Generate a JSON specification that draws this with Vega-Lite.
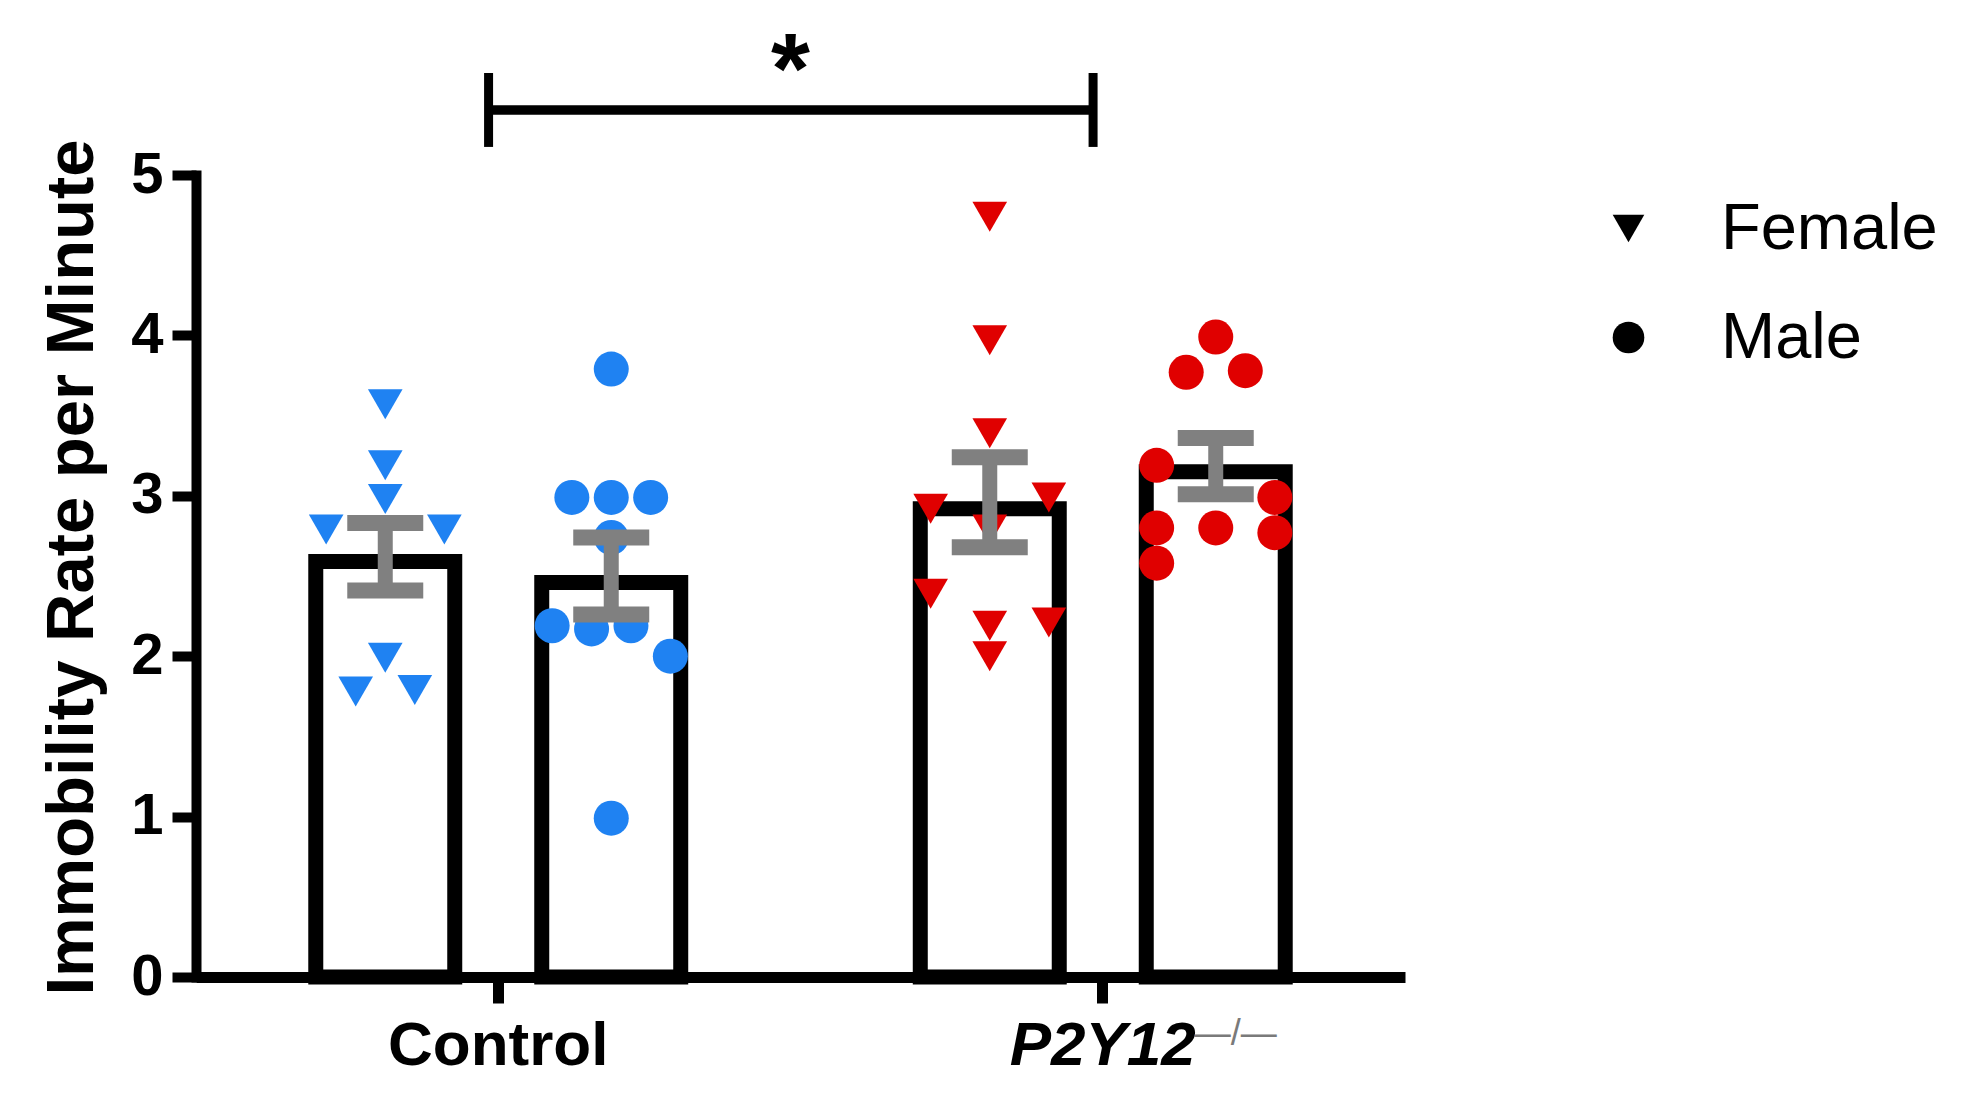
{
  "$schema": "https://vega.github.io/schema/vega-lite/v6.json",
  "width": 1209,
  "height": 802,
  "autosize": {"type": "none"},
  "padding": {"left": 196, "top": 175, "right": 571, "bottom": 127},
  "background": "white",
  "config": {
    "view": {"stroke": null},
    "font": "Liberation Sans",
    "axisX": {"domainCap": "butt"},
    "axisY": {"domainCap": "square"}
  },
  "datasets": {
    "bars": [
      {"group": "Control", "sex": "Female", "mean": 2.59, "lower": 2.41, "upper": 2.83},
      {"group": "Control", "sex": "Male", "mean": 2.46, "lower": 2.26, "upper": 2.74},
      {"group": "P2Y12", "sex": "Female", "mean": 2.92, "lower": 2.68, "upper": 3.24},
      {"group": "P2Y12", "sex": "Male", "mean": 3.15, "lower": 3.01, "upper": 3.36}
    ],
    "points": [
      {"group": "Control", "sex": "Female", "col": 0, "rate": 3.57},
      {"group": "Control", "sex": "Female", "col": 0, "rate": 3.19},
      {"group": "Control", "sex": "Female", "col": 0, "rate": 2.98},
      {"group": "Control", "sex": "Female", "col": -6, "rate": 2.79},
      {"group": "Control", "sex": "Female", "col": 6, "rate": 2.79},
      {"group": "Control", "sex": "Female", "col": 0, "rate": 1.99},
      {"group": "Control", "sex": "Female", "col": -3, "rate": 1.78},
      {"group": "Control", "sex": "Female", "col": 3, "rate": 1.79},
      {"group": "Control", "sex": "Male", "col": 0, "rate": 3.79},
      {"group": "Control", "sex": "Male", "col": -4, "rate": 2.99},
      {"group": "Control", "sex": "Male", "col": 0, "rate": 2.99},
      {"group": "Control", "sex": "Male", "col": 4, "rate": 2.99},
      {"group": "Control", "sex": "Male", "col": 0, "rate": 2.74},
      {"group": "Control", "sex": "Male", "col": -6, "rate": 2.19},
      {"group": "Control", "sex": "Male", "col": -2, "rate": 2.17},
      {"group": "Control", "sex": "Male", "col": 2, "rate": 2.19},
      {"group": "Control", "sex": "Male", "col": 6, "rate": 2.0},
      {"group": "Control", "sex": "Male", "col": 0, "rate": 0.99},
      {"group": "P2Y12", "sex": "Female", "col": 0, "rate": 4.74},
      {"group": "P2Y12", "sex": "Female", "col": 0, "rate": 3.97},
      {"group": "P2Y12", "sex": "Female", "col": 0, "rate": 3.39},
      {"group": "P2Y12", "sex": "Female", "col": -6, "rate": 2.92},
      {"group": "P2Y12", "sex": "Female", "col": 6, "rate": 2.99},
      {"group": "P2Y12", "sex": "Female", "col": 0, "rate": 2.79},
      {"group": "P2Y12", "sex": "Female", "col": -6, "rate": 2.39},
      {"group": "P2Y12", "sex": "Female", "col": 0, "rate": 2.19},
      {"group": "P2Y12", "sex": "Female", "col": 6, "rate": 2.21},
      {"group": "P2Y12", "sex": "Female", "col": 0, "rate": 2.0},
      {"group": "P2Y12", "sex": "Male", "col": 0, "rate": 3.99},
      {"group": "P2Y12", "sex": "Male", "col": -3, "rate": 3.77},
      {"group": "P2Y12", "sex": "Male", "col": 3, "rate": 3.78},
      {"group": "P2Y12", "sex": "Male", "col": -6, "rate": 3.19},
      {"group": "P2Y12", "sex": "Male", "col": 6, "rate": 2.99},
      {"group": "P2Y12", "sex": "Male", "col": -6, "rate": 2.8},
      {"group": "P2Y12", "sex": "Male", "col": 0, "rate": 2.8},
      {"group": "P2Y12", "sex": "Male", "col": 6, "rate": 2.77},
      {"group": "P2Y12", "sex": "Male", "col": -6, "rate": 2.58}
    ],
    "bracket": [
      {"group": "Control"},
      {"group": "P2Y12"}
    ]
  },
  "layer": [
    {
      "data": {"name": "bars"},
      "mark": {"type": "bar", "fill": "white", "stroke": "black", "strokeWidth": 15, "strokeJoin": "miter"},
      "encoding": {
        "x": {
          "field": "group", "type": "nominal",
          "scale": {"domain": ["Control", "P2Y12"], "paddingInner": 0, "paddingOuter": 0},
          "axis": {
            "title": null, "labelAngle": 0, "labelLimit": 0,
            "domainColor": "black", "domainWidth": 11,
            "tickColor": "black", "tickWidth": 11, "tickSize": 26,
            "labelFontSize": 62, "labelFontWeight": "bold", "labelColor": "black",
            "labelFont": "Liberation Sans", "labelPadding": 12,
            "labelFontStyle": {"condition": {"test": "datum.value == 'P2Y12'", "value": "italic"}, "value": "normal"}
          }
        },
        "xOffset": {"field": "sex", "type": "nominal", "scale": {"domain": ["Female", "Male"], "paddingInner": 0.385, "paddingOuter": 0.53}},
        "y": {
          "field": "mean", "type": "quantitative",
          "scale": {"domain": [0, 5], "nice": false, "zero": true},
          "axis": {
            "values": [0, 1, 2, 3, 4, 5], "format": "d", "grid": false,
            "title": "Immobility Rate per Minute",
            "titleFontSize": 67, "titleFontWeight": "bold", "titleColor": "black", "titleFont": "Liberation Sans",
            "titlePadding": 24, "titleLimit": 0, "titleY": 392,
            "domainColor": "black", "domainWidth": 10,
            "tickColor": "black", "tickWidth": 10, "tickSize": 24,
            "labelFontSize": 58, "labelFontWeight": "bold", "labelColor": "black", "labelFont": "Liberation Sans",
            "labelPadding": 9
          }
        }
      }
    },
    {
      "data": {"name": "points"},
      "transform": [{"filter": "datum.sex == 'Female'"}],
      "mark": {"type": "point", "filled": true, "opacity": 1, "size": 1200, "strokeWidth": 0},
      "encoding": {
        "x": {"field": "group", "type": "nominal"},
        "xOffset": {"field": "col", "type": "quantitative", "scale": {"domain": [-6, 6], "range": [130.15, 248.35], "zero": false, "nice": false}},
        "y": {"field": "rate", "type": "quantitative"},
        "color": {"field": "group", "type": "nominal", "scale": {"domain": ["Control", "P2Y12"], "range": ["#1F82F2", "#E00000"]}, "legend": null},
        "shape": {
          "field": "sex", "type": "nominal",
          "scale": {"domain": ["Female", "Male"], "range": ["triangle-down", "circle"]},
          "legend": {
            "orient": "none", "legendX": 1400, "legendY": 21, "title": null,
            "labelFontSize": 65, "labelFont": "Liberation Sans", "labelColor": "black", "labelFontWeight": "normal",
            "labelLimit": 0,
            "symbolSize": 1000, "symbolFillColor": "black", "symbolStrokeColor": "black", "symbolStrokeWidth": 0,
            "symbolOpacity": 1, "labelOffset": 60, "rowPadding": 43
          }
        }
      }
    },
    {
      "data": {"name": "points"},
      "transform": [{"filter": "datum.sex == 'Male'"}],
      "mark": {"type": "point", "filled": true, "opacity": 1, "size": 1225, "strokeWidth": 0},
      "encoding": {
        "x": {"field": "group", "type": "nominal"},
        "xOffset": {"field": "col", "type": "quantitative", "scale": {"domain": [-6, 6], "range": [356.15, 474.35], "zero": false, "nice": false}},
        "y": {"field": "rate", "type": "quantitative"},
        "color": {"field": "group", "type": "nominal", "legend": null},
        "shape": {"field": "sex", "type": "nominal"}
      }
    },
    {
      "data": {"name": "bars"},
      "mark": {"type": "rule", "color": "#808080", "strokeWidth": 15},
      "encoding": {
        "x": {"field": "group", "type": "nominal"},
        "xOffset": {"field": "sex", "type": "nominal", "scale": {"domain": ["Female", "Male"], "paddingInner": 0.385, "paddingOuter": 0.53}},
        "y": {"field": "lower", "type": "quantitative"},
        "y2": {"field": "upper"}
      }
    },
    {
      "data": {"name": "bars"},
      "mark": {"type": "tick", "color": "#808080", "size": 76, "thickness": 16, "opacity": 1, "orient": "horizontal"},
      "encoding": {
        "x": {"field": "group", "type": "nominal"},
        "xOffset": {"field": "sex", "type": "nominal", "scale": {"domain": ["Female", "Male"], "paddingInner": 0.385, "paddingOuter": 0.53}},
        "y": {"field": "upper", "type": "quantitative"}
      }
    },
    {
      "data": {"name": "bars"},
      "mark": {"type": "tick", "color": "#808080", "size": 76, "thickness": 16, "opacity": 1, "orient": "horizontal"},
      "encoding": {
        "x": {"field": "group", "type": "nominal"},
        "xOffset": {"field": "sex", "type": "nominal", "scale": {"domain": ["Female", "Male"], "paddingInner": 0.385, "paddingOuter": 0.53}},
        "y": {"field": "lower", "type": "quantitative"}
      }
    },
    {
      "data": {"name": "bracket"},
      "mark": {"type": "rule", "color": "black", "strokeWidth": 9},
      "encoding": {
        "x": {"field": "group", "type": "nominal", "bandPosition": 0.484},
        "y": {"datum": 5.175},
        "y2": {"datum": 5.636}
      }
    },
    {
      "data": {"name": "bracket"},
      "mark": {"type": "rule", "color": "black", "strokeWidth": 9},
      "encoding": {
        "x": {"datum": "Control", "type": "nominal", "bandPosition": 0.484},
        "x2": {"datum": "P2Y12", "bandPosition": 0.484},
        "y": {"datum": 5.405}
      }
    },
    {
      "data": {"name": "bracket"},
      "transform": [{"filter": "datum.group == 'P2Y12'"}],
      "mark": {"type": "text", "text": "*", "fontSize": 100, "fontWeight": "bold", "font": "Liberation Sans", "color": "black", "align": "center", "baseline": "alphabetic", "dx": -10},
      "encoding": {
        "x": {"field": "group", "type": "nominal", "bandPosition": 0},
        "y": {"datum": 5.45}
      }
    },
    {
      "data": {"name": "bracket"},
      "transform": [{"filter": "datum.group == 'P2Y12'"}],
      "mark": {"type": "text", "text": "—/—", "fontSize": 36, "font": "Liberation Sans", "color": "#7a7a7a", "align": "left", "baseline": "alphabetic", "dx": 92},
      "encoding": {
        "x": {"field": "group", "type": "nominal"},
        "y": {"datum": -0.424}
      }
    }
  ],
  "resolve": {"scale": {"xOffset": "independent"}}
}
